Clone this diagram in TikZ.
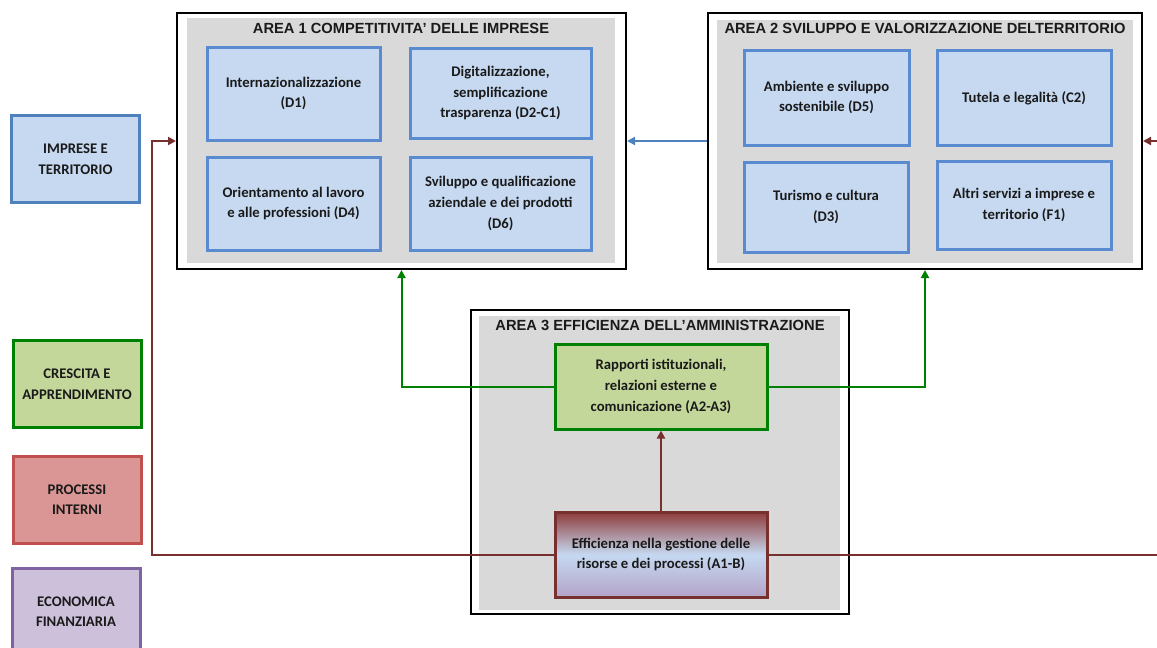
\documentclass[tikz,border=0pt]{standalone}
\usepackage{fontspec}
\setmainfont{Carlito}
\newfontfamily\arialfont{Liberation Sans}
\usetikzlibrary{arrows.meta}
\definecolor{bxblue}{HTML}{5A8AD0}
\definecolor{ltblue}{HTML}{4F81BD}
\definecolor{bxfill}{HTML}{C6D9F1}
\definecolor{areagray}{HTML}{D9D9D9}
\definecolor{grn}{HTML}{008000}
\definecolor{grnfill}{HTML}{C4D79B}
\definecolor{redb}{HTML}{C0504D}
\definecolor{redfill}{HTML}{D99694}
\definecolor{purb}{HTML}{8064A2}
\definecolor{purfill}{HTML}{CCC0DA}
\definecolor{dred}{HTML}{77302E}
\definecolor{dredtop}{HTML}{8E3B3A}
\definecolor{lav}{HTML}{B3A3C8}
\definecolor{txt}{HTML}{1A1A1A}
\newcommand\bxf{\bfseries\fontsize{14.7}{20.6}\selectfont}
\newcommand\ttlf{\arialfont\bfseries\fontsize{14.7}{17}\selectfont}
\begin{document}
\begin{tikzpicture}[x=1pt,y=-1pt,
  box/.style={draw=bxblue, fill=bxfill, line width=3pt, align=center, font=\bxf, text=txt, inner sep=0pt},
  side/.style={line width=3pt, align=center, font=\bxf, text=txt, inner sep=0pt, minimum width=128, minimum height=87},
  areaout/.style={draw=black, fill=white, line width=2pt, inner sep=0pt},
  areabg/.style={fill=areagray, draw=none, inner sep=0pt},
  ttl/.style={font=\ttlf, text=txt, inner sep=0pt},
  conn/.style={line width=2pt, -{Triangle[length=8pt,width=8pt]}}
]
\useasboundingbox (0,0) rectangle (1157,648);
\clip (0,0) rectangle (1157,648);

% left side boxes
\node[side, draw=ltblue, fill=bxfill] (imp) at (75.5,159) {IMPRESE E\\TERRITORIO};
\node[side, draw=grn, fill=grnfill] (cre) at (77,384) {CRESCITA E\\APPRENDIMENTO};
\node[side, draw=redb, fill=redfill] (pro) at (77,499.5) {PROCESSI\\INTERNI};
\node[side, draw=purb, fill=purfill] (eco) at (76,611.5) {ECONOMICA\\FINANZIARIA};

% Area 1
\node[areaout, minimum width=449, minimum height=256] (area1) at (401.5,141) {};
\node[areabg, minimum width=428, minimum height=245] (area1bg) at (401,140.5) {};
\node[ttl] (area1t) at (401,28) {AREA 1 COMPETITIVITA’ DELLE IMPRESE};
\node[box, minimum width=173, minimum height=93] (d1) at (293.5,93.5) {Internazionalizzazione\\(D1)};
\node[box, minimum width=181, minimum height=90] (d2) at (500.5,93) {Digitalizzazione,\\semplificazione\\trasparenza (D2-C1)};
\node[box, minimum width=173, minimum height=93] (d4) at (293.5,203.5) {Orientamento al lavoro\\e alle professioni (D4)};
\node[box, minimum width=181, minimum height=93] (d6) at (500.5,203.5) {Sviluppo e qualificazione\\aziendale e dei prodotti\\(D6)};

% Area 2
\node[areaout, minimum width=434, minimum height=256] (area2) at (925,141) {};
\node[areabg, minimum width=416, minimum height=243] (area2bg) at (925,141.5) {};
\node[ttl] (area2t) at (925,28) {AREA 2 SVILUPPO E VALORIZZAZIONE DELTERRITORIO};
\node[box, minimum width=165, minimum height=95] (d5) at (826.5,97.5) {Ambiente e sviluppo\\sostenibile (D5)};
\node[box, minimum width=174, minimum height=95] (c2) at (1024,98) {Tutela e legalità (C2)};
\node[box, minimum width=164, minimum height=90] (d3) at (826,207) {Turismo e cultura\\(D3)};
\node[box, minimum width=174, minimum height=88] (f1) at (1024,205) {Altri servizi a imprese e\\territorio (F1)};

% Area 3
\node[areaout, minimum width=378, minimum height=304] (area3) at (659.5,462) {};
\node[areabg, minimum width=361, minimum height=294] (area3bg) at (659.5,463) {};
\node[ttl] (area3t) at (660,325) {AREA 3 EFFICIENZA DELL’AMMINISTRAZIONE};
\node[box, draw=grn, fill=grnfill, minimum width=212, minimum height=85] (a23) at (661,386.5) {Rapporti istituzionali,\\relazioni esterne e\\comunicazione (A2-A3)};
\node[box, draw=dred, top color=dredtop, bottom color=lav, middle color=bxfill, minimum width=212, minimum height=85] (a1b) at (661,554.5) {Efficienza nella gestione delle\\risorse e dei processi (A1-B)};

% connectors
\draw[conn, ltblue] (area2.west) -- (area1.east);
\draw[conn, grn] (a23.west) -| (area1.south);
\draw[conn, grn] (a23.east) -| (area2.south);
\draw[conn, dred] (a1b.north) -- (a23.south);
\coordinate (lturn) at (152,554.5);
\draw[conn, dred] (a1b.west) -- (lturn) |- (area1.west);
\coordinate (rturn) at (1175,554.5);
\draw[conn, dred] (a1b.east) -- (rturn) |- (area2.east);
\end{tikzpicture}
\end{document}
